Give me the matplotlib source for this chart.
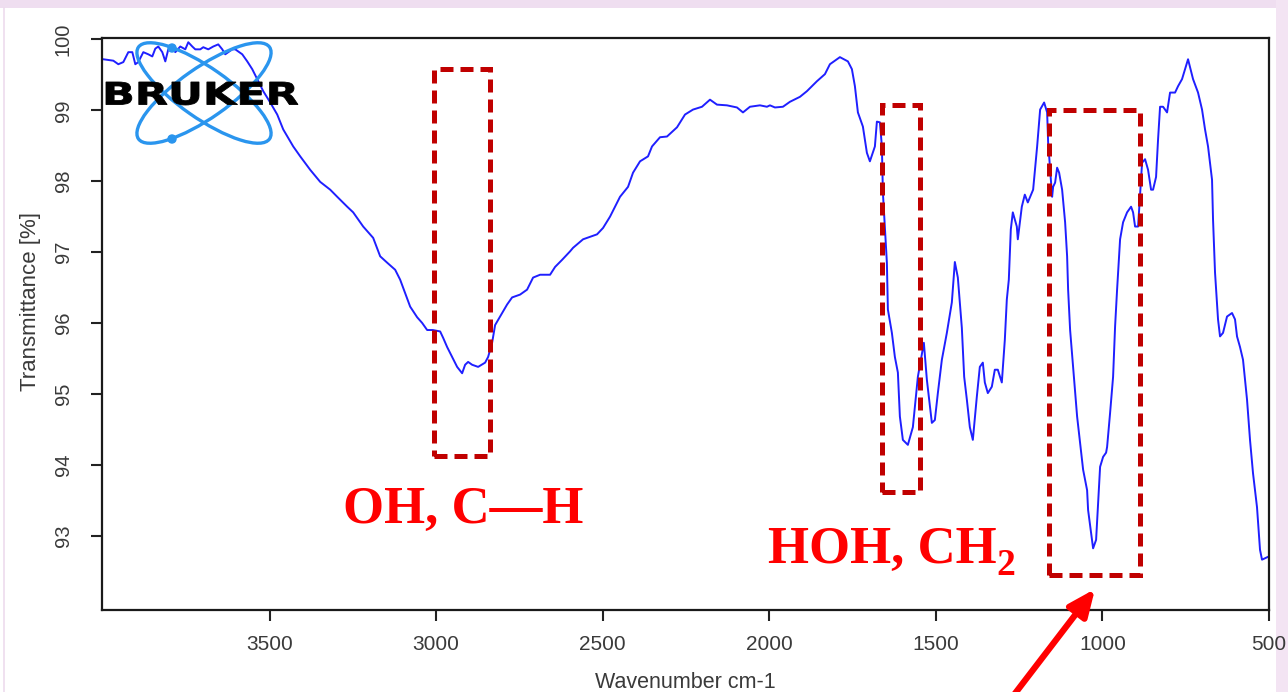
import matplotlib
matplotlib.use("Agg")
import matplotlib.pyplot as plt
from matplotlib.patches import Rectangle, Ellipse, Circle, FancyArrowPatch, PathPatch
from matplotlib.textpath import TextPath
from matplotlib.font_manager import FontProperties
from matplotlib.transforms import Affine2D

plt.rcParams["font.family"] = ["Liberation Sans", "DejaVu Sans"]

# FTIR spectrum (wavenumber cm-1, transmittance %)
wavenumber = [
    3999, 3969, 3954, 3939, 3924, 3912, 3903, 3894, 3879, 3864, 3852, 3843, 3834, 3822,
    3813, 3804, 3792, 3783, 3768, 3753, 3744, 3732, 3723, 3708, 3699, 3684, 3669, 3654,
    3642, 3633, 3624, 3612, 3603, 3594, 3582, 3567, 3552, 3537, 3519, 3498, 3477, 3459,
    3429, 3408, 3378, 3348, 3318, 3297, 3267, 3249, 3219, 3189, 3168, 3147, 3123, 3108,
    3093, 3078, 3057, 3042, 3027, 3010, 2988, 2979, 2967, 2952, 2937, 2922, 2913, 2904,
    2892, 2874, 2853, 2844, 2832, 2823, 2808, 2787, 2772, 2748, 2727, 2709, 2688, 2658,
    2643, 2622, 2598, 2589, 2559, 2517, 2499, 2478, 2463, 2448, 2424, 2409, 2388, 2364,
    2352, 2328, 2307, 2277, 2253, 2229, 2202, 2178, 2157, 2127, 2097, 2079, 2058, 2028,
    2007, 1998, 1983, 1959, 1938, 1908, 1887, 1857, 1833, 1818, 1788, 1764, 1752, 1743,
    1734, 1719, 1707, 1698, 1683, 1677, 1668, 1662, 1659, 1647, 1644, 1632, 1623, 1614,
    1608, 1599, 1584, 1569, 1554, 1536, 1527, 1512, 1503, 1494, 1482, 1467, 1452, 1443,
    1434, 1422, 1415, 1407, 1398, 1389, 1377, 1368, 1359, 1353, 1344, 1332, 1323, 1314,
    1302, 1293, 1287, 1281, 1275, 1269, 1257, 1254, 1242, 1233, 1224, 1208, 1196, 1187,
    1175, 1166, 1163, 1157, 1151, 1148, 1142, 1136, 1130, 1121, 1112, 1106, 1103, 1097,
    1088, 1076, 1067, 1058, 1046, 1043, 1034, 1028, 1019, 1013, 1007, 998, 989, 986,
    977, 968, 962, 956, 947, 938, 926, 914, 908, 902, 893, 881, 872, 863,
    854, 848, 839, 833, 827, 818, 806, 797, 782, 773, 761, 743, 728, 713,
    701, 692, 683, 671, 668, 662, 653, 647, 638, 626, 611, 602, 596, 587,
    578, 572, 566, 557, 548, 536, 527, 521, 503,
]
transmittance = [
    99.72, 99.70, 99.65, 99.68, 99.82, 99.82, 99.65, 99.68, 99.82, 99.79, 99.76, 99.87, 99.90, 99.82,
    99.69, 99.86, 99.89, 99.82, 99.90, 99.86, 99.96, 99.90, 99.86, 99.86, 99.89, 99.86, 99.90, 99.93,
    99.86, 99.79, 99.82, 99.86, 99.86, 99.83, 99.79, 99.69, 99.58, 99.44, 99.27, 99.11, 98.94, 98.73,
    98.49, 98.35, 98.16, 97.99, 97.88, 97.78, 97.64, 97.56, 97.36, 97.20, 96.94, 96.85, 96.75, 96.61,
    96.42, 96.23, 96.08, 96.00, 95.90, 95.90, 95.88, 95.79, 95.66, 95.52, 95.38, 95.29, 95.41, 95.45,
    95.41, 95.38, 95.44, 95.52, 95.72, 95.97, 96.09, 96.26, 96.36, 96.40, 96.47, 96.64, 96.68, 96.68,
    96.79, 96.89, 97.01, 97.06, 97.18, 97.25, 97.34, 97.50, 97.64, 97.78, 97.92, 98.12, 98.28, 98.35,
    98.49, 98.62, 98.63, 98.76, 98.94, 99.01, 99.05, 99.15, 99.08, 99.07, 99.04, 98.97, 99.05, 99.07,
    99.05, 99.07, 99.04, 99.05, 99.12, 99.19, 99.27, 99.41, 99.51, 99.65, 99.75, 99.69, 99.58, 99.34,
    98.97, 98.77, 98.40, 98.28, 98.49, 98.84, 98.83, 98.49, 97.84, 96.85, 96.19, 95.86, 95.52, 95.30,
    94.68, 94.35, 94.28, 94.53, 95.24, 95.72, 95.20, 94.59, 94.63, 95.01, 95.48, 95.86, 96.29, 96.86,
    96.64, 95.93, 95.24, 94.92, 94.53, 94.35, 94.96, 95.38, 95.44, 95.16, 95.01, 95.10, 95.34, 95.34,
    95.16, 95.76, 96.33, 96.61, 97.32, 97.56, 97.36, 97.18, 97.64, 97.81, 97.70, 97.88, 98.49, 99.01,
    99.11, 98.97, 98.55, 98.16, 97.78, 97.92, 97.98, 98.19, 98.12, 97.88, 97.42, 96.94, 96.47, 95.90,
    95.38, 94.68, 94.31, 93.93, 93.64, 93.36, 93.04, 92.82, 92.94, 93.46, 93.97, 94.11, 94.17, 94.25,
    94.73, 95.24, 95.95, 96.47, 97.18, 97.42, 97.56, 97.64, 97.56, 97.36, 97.36, 98.26, 98.31, 98.16,
    97.88, 97.88, 98.06, 98.59, 99.05, 99.05, 98.97, 99.25, 99.25, 99.34, 99.44, 99.72, 99.44, 99.25,
    99.01, 98.73, 98.49, 98.02, 97.46, 96.71, 96.05, 95.81, 95.86, 96.09, 96.14, 96.05, 95.81, 95.66,
    95.48, 95.20, 94.92, 94.35, 93.88, 93.40, 92.80, 92.66, 92.70,
]

x_ticks = [3500, 3000, 2500, 2000, 1500, 1000, 500]
y_ticks = [93, 94, 95, 96, 97, 98, 99, 100]

# highlighted bands: (wn_left, wn_right, T_bottom, T_top)
bands = [
    (3006, 2838, 94.12, 99.58),
    (1662, 1547, 93.62, 99.07),
    (1160, 887, 92.44, 99.00),
]

W, H = 1288, 692
fig = plt.figure(figsize=(W / 100, H / 100), dpi=100)
fig.patch.set_facecolor("white")

# page background bits, behind everything
bg = fig.add_axes([0, 0, 1, 1], zorder=-1)
bg.set_xlim(0, W)
bg.set_ylim(H, 0)
bg.axis("off")
bg.add_patch(Rectangle((0, 0), W, 8, color="#efdef0", lw=0))
bg.add_patch(Rectangle((1276, 0), 12, H, color="#f3e4f3", lw=0))
bg.plot([4, 4], [8, H], color="#eddcee", lw=1.2)

ax = fig.add_axes([102 / W, (H - 610) / H, (1269 - 102) / W, (610 - 38) / H])
ax.plot(wavenumber, transmittance, color="#1f1fff", lw=1.4)
ax.set_xlim(4003, 500)
ax.set_ylim(91.95, 100.02)
ax.set_xticks(x_ticks)
ax.set_yticks(y_ticks)
ax.set_yticklabels([str(t) for t in y_ticks], rotation=90, va="center")
ax.tick_params(axis="both", direction="out", length=8, width=1.5, colors="#222222",
               labelcolor="#3a3a3a")
ax.tick_params(axis="x", labelsize=15, pad=10)
ax.tick_params(axis="y", labelsize=14.5, pad=13)
for s in ax.spines.values():
    s.set_linewidth(1.6)
    s.set_color("#1a1a1a")

ax.set_xlabel("Wavenumber cm-1", fontsize=15.5, color="#3a3a3a")
ax.xaxis.set_label_coords(0.5, -0.108)
ax.set_ylabel("Transmittance [%]", fontsize=16, color="#3a3a3a")
ax.yaxis.set_label_coords(-0.052, 0.54)

for x0, x1, y0, y1 in bands:
    ax.add_patch(Rectangle((x0, y0), x1 - x0, y1 - y0, fill=False, edgecolor="#c00000",
                           lw=3.6, linestyle=(0, (2.6, 1.4)), zorder=4, clip_on=False))

# overlay in pixel coordinates for logo, labels and arrow
ov = fig.add_axes([0, 0, 1, 1], zorder=5)
ov.set_xlim(0, W)
ov.set_ylim(H, 0)
ov.axis("off")

# Bruker logo
logo_c = "#2a95ee"
for ang in (35, -35):
    ov.add_patch(Ellipse((204, 93), 160, 50, angle=ang, fill=False, edgecolor=logo_c, lw=2.4))
for cy in (48, 139):
    ov.add_patch(Circle((172, cy), 4, color=logo_c))
tp = TextPath((0, 0), "BRUKER", size=10,
              prop=FontProperties(family="DejaVu Sans", weight="bold"))
bb = tp.get_extents()
tr = (Affine2D().translate(-bb.x0, -bb.y0)
      .scale(192 / bb.width, -23 / bb.height).translate(106, 105))
ov.add_patch(PathPatch(tr.transform_path(tp), color="black", lw=0.6))

red = "#ff0000"
ov.text(343, 523, "OH, C\u2014H", fontsize=38, fontweight="bold", color=red,
        family="Liberation Serif", ha="left", va="baseline")
ov.text(768, 563, "HOH, CH", fontsize=38, fontweight="bold", color=red,
        family="Liberation Serif", ha="left", va="baseline")
ov.text(996, 575, "2", fontsize=27, fontweight="bold", color=red,
        family="Liberation Serif", ha="left", va="baseline")

ov.add_patch(FancyArrowPatch((1010, 700), (1095, 589),
                             arrowstyle="-|>,head_length=16,head_width=7",
                             mutation_scale=1, lw=4.5, color=red,
                             shrinkA=0, shrinkB=0))

fig.savefig("out.png", dpi=100)
